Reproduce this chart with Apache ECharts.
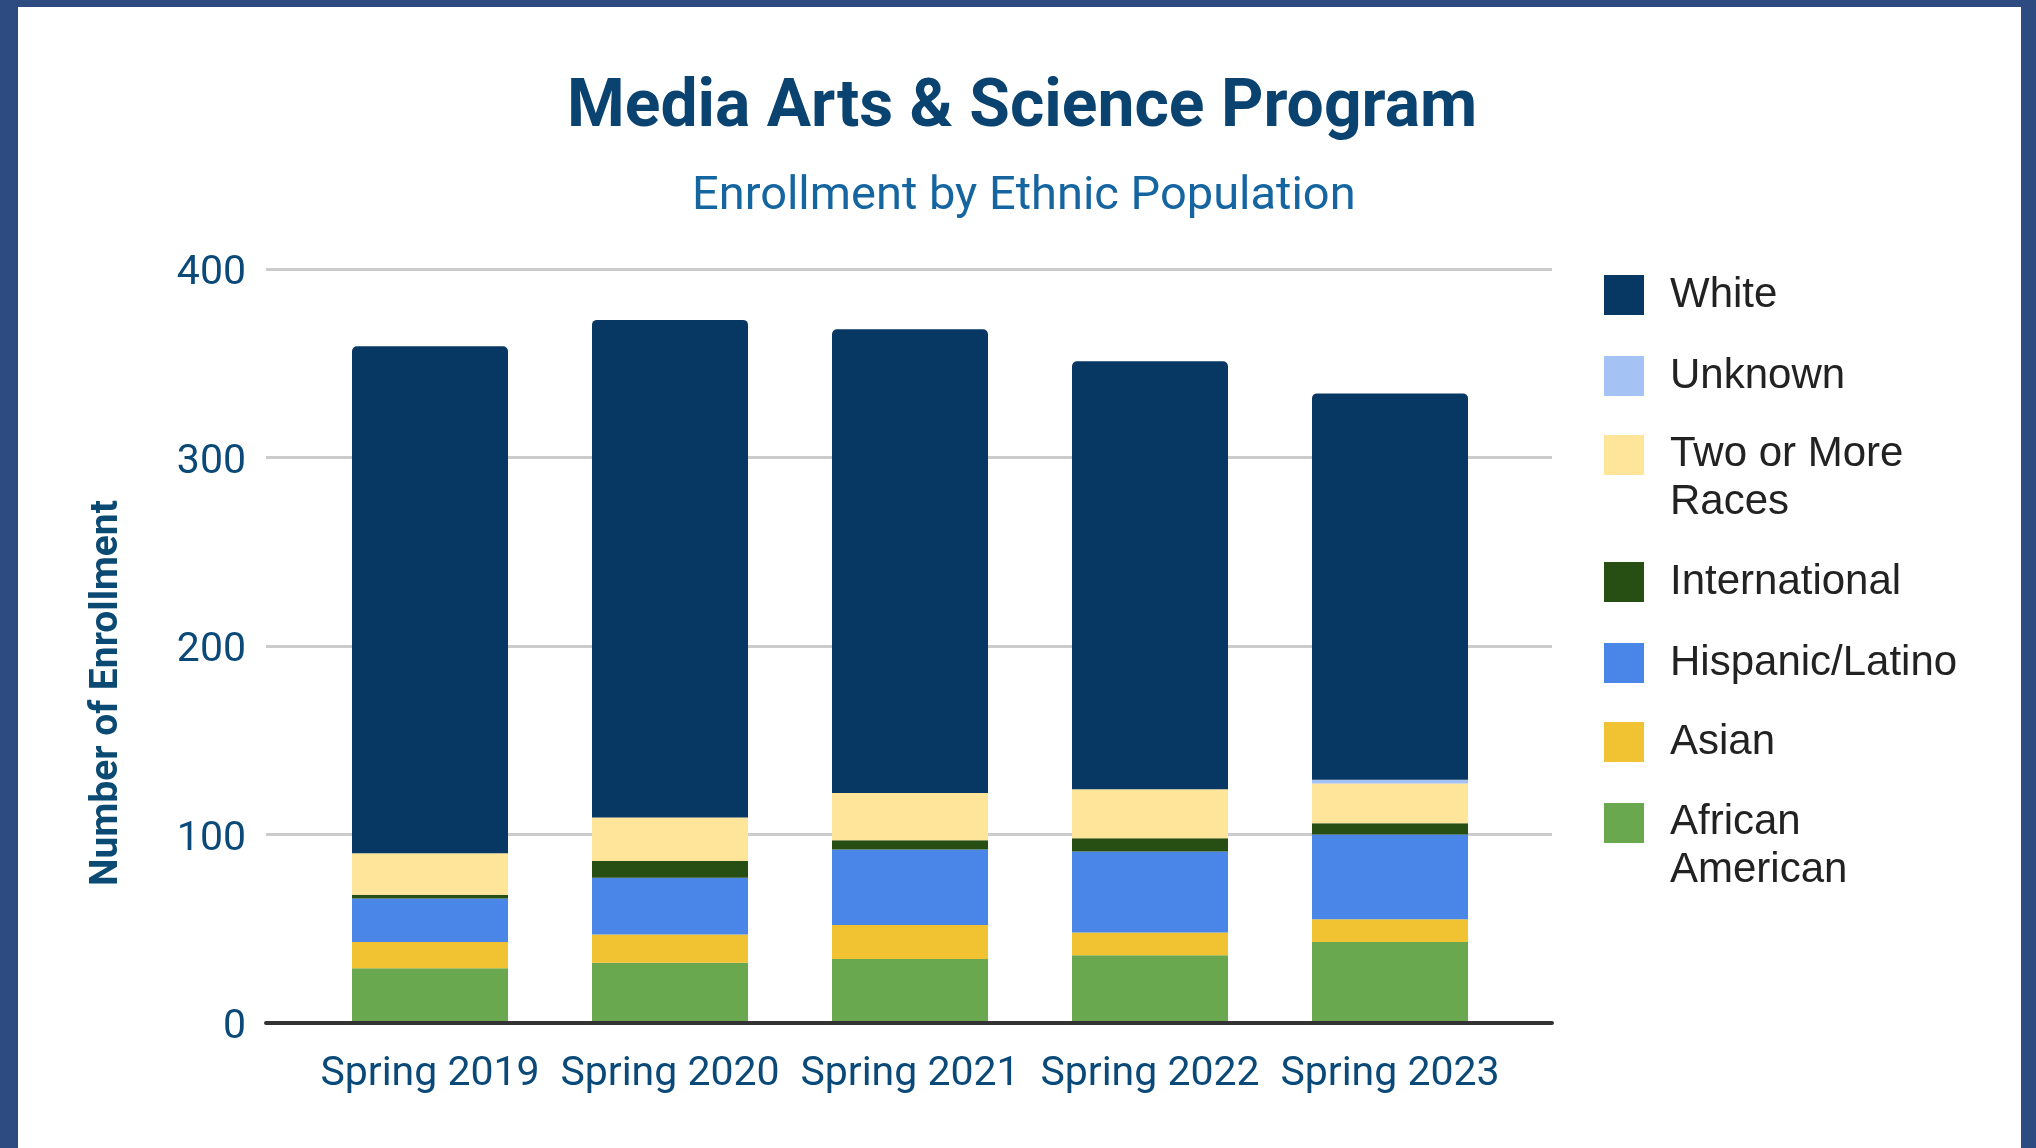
<!DOCTYPE html>
<html><head><meta charset="utf-8">
<script src="https://cdn.jsdelivr.net/npm/echarts@6/dist/echarts.min.js"></script>
<style>
html,body{margin:0;padding:0;width:2036px;height:1148px;overflow:hidden;background:#2d4b80;}
#frame{position:absolute;left:18px;top:7px;width:2003px;height:1141px;background:#fff;}
#chart{position:absolute;left:0;top:0;width:2036px;height:1148px;}
</style></head><body><div id="frame"></div><div id="chart"></div>
<script>
const categories = ['Spring 2019','Spring 2020','Spring 2021','Spring 2022','Spring 2023'];
const africanAmerican = [29, 32, 34, 36, 43];
const asian = [14, 15, 18, 12, 12];
const hispanicLatino = [23, 30, 40, 43, 45];
const international = [2, 9, 5, 7, 6];
const twoOrMore = [22, 23, 25, 26, 21];
const unknown = [0, 0, 0, 0, 2];
const white = [269, 264, 246, 227, 205];
const yTicks = [0, 100, 200, 300, 400];

const seriesDefs = [
  {name:'African American', data:africanAmerican, color:'#6aa84f', label:'African\nAmerican'},
  {name:'Asian', data:asian, color:'#f1c232', label:'Asian'},
  {name:'Hispanic/Latino', data:hispanicLatino, color:'#4a86e8', label:'Hispanic/Latino'},
  {name:'International', data:international, color:'#274e13', label:'International'},
  {name:'Two or More Races', data:twoOrMore, color:'#ffe599', label:'Two or More\nRaces'},
  {name:'Unknown', data:unknown, color:'#a4c2f4', label:'Unknown'},
  {name:'White', data:white, color:'#073763', label:'White'}
];

const chart = echarts.init(document.getElementById('chart'), null, {renderer:'canvas'});
const legendFont = {fontFamily:'Liberation Sans', fontSize:42, color:'#222222'};
const legendOrder = seriesDefs.slice().reverse();
const legendCenters = [295, 376, 455, 582, 663, 742, 823];
const legends = legendOrder.map((s, i) => {
  const lines = s.label.split('\n');
  const two = lines.length > 1;
  return {
    data:[s.name], orient:'vertical', left:1604,
    top: two ? legendCenters[i] - 47.5 : legendCenters[i] - 23.5,
    padding:0, icon:'rect', itemWidth:40, itemHeight:40, selectedMode:false,
    formatter: two ? ('{a|' + lines[0] + '}\n{b|' + lines[1] + '}') : lines[0],
    textStyle: Object.assign({}, legendFont, {lineHeight:47, padding:[0,0,0,21],
      rich:{a:Object.assign({}, legendFont, {lineHeight:94}), b:Object.assign({}, legendFont, {lineHeight:1})}})
  };
});

const yLabelFont = {fontFamily:'Roboto', fontSize:41, color:'#0b4a78'};

const option = {
  animation:false,
  title:[
    {text:'Media Arts & Science Program', left:567, top:76, padding:0,
     textStyle:{fontFamily:'Roboto', fontWeight:'bold', fontSize:66, color:'#0a4270'}},
    {text:'Enrollment by Ethnic Population', left:692, top:174, padding:0,
     textStyle:{fontFamily:'Roboto', fontWeight:'normal', fontSize:47, color:'#1565a0'}}
  ],
  legend: legends,
  grid:[
    {left:266, right:484, top:269, bottom:125},
    {left:310, right:526, top:269, bottom:125}
  ],
  xAxis:[
    {gridIndex:0, type:'category', data:categories, z:5,
     axisLine:{lineStyle:{color:'#333333', width:4}}, axisTick:{show:false}, axisLabel:{show:false}, splitLine:{show:false}},
    {gridIndex:1, type:'category', data:categories,
     axisLine:{show:false}, axisTick:{show:false}, splitLine:{show:false},
     axisLabel:{interval:0, hideOverlap:false, fontFamily:'Roboto', fontSize:41, color:'#0b4a78', margin:31}}
  ],
  yAxis:[
    {gridIndex:0, type:'value', min:yTicks[0], max:yTicks[yTicks.length-1], interval:yTicks[1]-yTicks[0],
     axisLine:{show:false}, axisTick:{show:false},
     axisLabel:Object.assign({}, yLabelFont, {margin:20, formatter:'{v|{value}}',
       rich:{v:Object.assign({}, yLabelFont, {padding:[10,0,0,0]})}}),
     splitLine:{lineStyle:{color:'#cccccc', width:3}},
     name:'Number of Enrollment', nameLocation:'middle', nameGap:139, nameRotate:90,
     nameTextStyle:{fontFamily:'Roboto', fontWeight:'bold', fontSize:39, color:'#0b4a73', padding:[0,94,0,0]}},
    {gridIndex:1, type:'value', min:yTicks[0], max:yTicks[yTicks.length-1], interval:yTicks[1]-yTicks[0], show:false}
  ],
  series: seriesDefs.map(s => ({
    name:s.name, type:'bar', stack:'total', xAxisIndex:1, yAxisIndex:1, barWidth:156,
    data:s.data,
    itemStyle:{color:s.color, borderRadius: s.name === 'White' ? [5,5,0,0] : 0},
    emphasis:{disabled:true}
  }))
};
chart.setOption(option);
</script></body></html>
